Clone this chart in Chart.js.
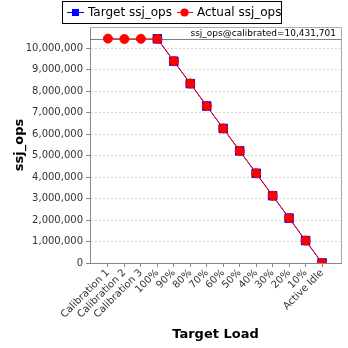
<!DOCTYPE html>
<html>
<head>
<meta charset="utf-8">
<script src="https://cdn.jsdelivr.net/npm/chart.js@4"></script>
<style>
  html, body { margin: 0; padding: 0; background: #fff; }
  #wrap { width: 348px; height: 348px; }
</style>
</head>
<body>
<div id="wrap"><canvas id="chart" width="348" height="348"></canvas></div>
<script>
const categories = ['Calibration 1', 'Calibration 2', 'Calibration 3', '100%', '90%', '80%', '70%', '60%', '50%', '40%', '30%', '20%', '10%', 'Active Idle'];
const targetOps = [null, null, null, 10431701, 9388531, 8345361, 7302191, 6259021, 5215851, 4172680, 3129510, 2086340, 1043170, 0];
const actualOps = [10440000, 10420000, 10431000, 10425000, 9390000, 8350000, 7300000, 6262000, 5213000, 4170000, 3128000, 2088000, 1044000, 0];
const calibrated = 10431701;
const yTicks = [0, 1000000, 2000000, 3000000, 4000000, 5000000, 6000000, 7000000, 8000000, 9000000, 10000000];

const FONT = '"DejaVu Sans", sans-serif';

// gray reference line for the calibrated value
const calibLine = {
  id: 'calibLine',
  beforeDatasetsDraw(chart) {
    const { ctx, chartArea, scales } = chart;
    const y = Math.round(scales.y.getPixelForValue(calibrated)) + 0.5;
    ctx.save();
    ctx.strokeStyle = '#808080';
    ctx.lineWidth = 1;
    ctx.beginPath();
    ctx.moveTo(chartArea.left, y);
    ctx.lineTo(chartArea.right, y);
    ctx.stroke();
    ctx.fillStyle = '#000';
    ctx.font = '9px ' + FONT;
    ctx.textAlign = 'right';
    ctx.textBaseline = 'bottom';
    ctx.fillText('ssj_ops@calibrated=' + calibrated.toLocaleString('en-US'), chartArea.right - 5, y - 1);
    ctx.restore();
  }
};

// legend box like the original
const boxLegend = {
  id: 'boxLegend',
  afterDraw(chart) {
    const ctx = chart.ctx;
    ctx.save();
    ctx.fillStyle = '#fff';
    ctx.fillRect(62, 1, 220, 23);
    ctx.strokeStyle = '#000';
    ctx.lineWidth = 1;
    ctx.strokeRect(62.5, 1.5, 219, 22);
    // target
    ctx.strokeStyle = '#0000ff';
    ctx.beginPath(); ctx.moveTo(67, 12.5); ctx.lineTo(84, 12.5); ctx.stroke();
    ctx.fillStyle = '#0000ff';
    ctx.fillRect(72, 9, 7, 7);
    // actual
    ctx.strokeStyle = '#ff0000';
    ctx.beginPath(); ctx.moveTo(177, 12.5); ctx.lineTo(193, 12.5); ctx.stroke();
    ctx.fillStyle = '#ff0000';
    ctx.beginPath(); ctx.arc(184.5, 12.5, 4, 0, Math.PI * 2); ctx.fill();
    ctx.fillStyle = '#000';
    ctx.font = '12px ' + FONT;
    ctx.textBaseline = 'middle';
    ctx.textAlign = 'left';
    ctx.fillText('Target ssj_ops', 88, 13);
    ctx.fillText('Actual ssj_ops', 197, 13);
    ctx.restore();
  }
};

const toPoints = arr => arr.map((v, i) => ({ x: i, y: v }));

new Chart(document.getElementById('chart'), {
  type: 'line',
  data: {
    datasets: [{
      label: 'Target ssj_ops',
      data: toPoints(targetOps),
      borderColor: '#0000ff',
      backgroundColor: '#0000ff',
      borderWidth: 1,
      pointStyle: 'rect',
      pointRadius: 6,
      pointHoverRadius: 6,
      spanGaps: false,
      order: 2
    }, {
      label: 'Actual ssj_ops',
      data: toPoints(actualOps),
      borderColor: '#ff0000',
      backgroundColor: '#ff0000',
      borderWidth: 1,
      pointStyle: 'circle',
      pointRadius: 4.5,
      pointHoverRadius: 4.5,
      order: 1
    }]
  },
  options: {
    responsive: false,
    animation: false,
    layout: { padding: { top: 27, right: 7, left: 0, bottom: 0 } },
    plugins: { legend: { display: false }, tooltip: { enabled: false } },
    scales: {
      x: {
        type: 'linear',
        min: -1.09,
        max: 14.15,
        afterBuildTicks(scale) {
          scale.ticks = categories.map((c, i) => ({ value: i }));
        },
        afterFit(scale) { scale.height = 85; },
        ticks: {
          autoSkip: false,
          minRotation: 45,
          maxRotation: 45,
          padding: 0,
          color: '#333',
          font: { family: FONT, size: 10 },
          callback: (v) => categories[v]
        },
        grid: { drawOnChartArea: false, drawTicks: true, tickLength: 4, color: '#888' },
        border: { color: '#888' },
        title: {
          display: true,
          text: 'Target Load',
          color: '#000',
          font: { family: FONT, size: 13, weight: 'bold' },
          padding: { top: 0, bottom: 6 }
        }
      },
      y: {
        min: 0,
        max: 10980000,
        afterBuildTicks(scale) {
          scale.ticks = yTicks.map(v => ({ value: v }));
        },
        afterFit(scale) { scale.width = 90; },
        ticks: {
          color: '#333',
          padding: 3,
          font: { family: FONT, size: 10 },
          callback: (v) => v.toLocaleString('en-US')
        },
        grid: {
          color: '#d8d8d8',
          tickColor: '#888',
          tickLength: 4,
          drawTicks: true
        },
        border: { color: '#888', dash: [2, 2] },
        title: {
          display: true,
          text: 'ssj_ops',
          color: '#000',
          font: { family: FONT, size: 13, weight: 'bold' },
          padding: { top: 12, bottom: 4 }
        }
      }
    }
  },
  plugins: [calibLine, boxLegend, {
    id: 'frame',
    afterDraw(chart) {
      const { ctx, chartArea } = chart;
      ctx.save();
      ctx.strokeStyle = '#aaa';
      ctx.lineWidth = 1;
      ctx.beginPath();
      ctx.moveTo(chartArea.left, Math.round(chartArea.top) + 0.5);
      ctx.lineTo(Math.round(chartArea.right) + 0.5, Math.round(chartArea.top) + 0.5);
      ctx.lineTo(Math.round(chartArea.right) + 0.5, chartArea.bottom);
      ctx.stroke();
      ctx.restore();
    }
  }]
});
</script>
</body>
</html>
